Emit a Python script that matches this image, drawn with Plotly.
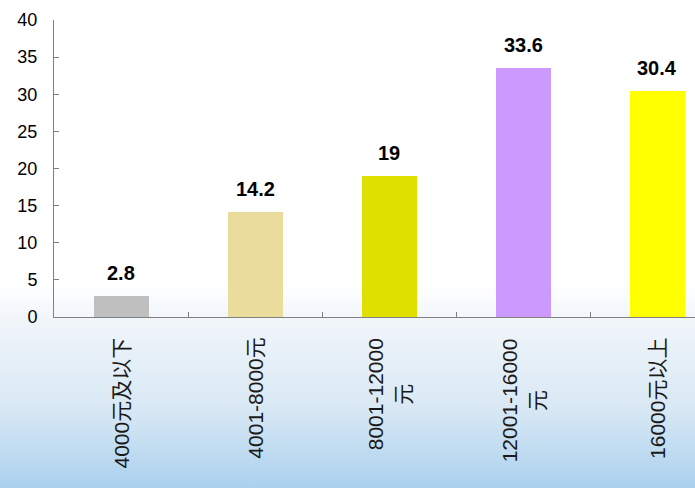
import base64
import plotly.graph_objects as go

# Monthly income bands and share of respondents (%)
categories = ["4000元及以下", "4001-8000元", "8001-12000<br>元", "12001-16000<br>元", "16000元以上"]
values = [2.8, 14.2, 19, 33.6, 30.4]
bar_colors = ["#BFBFBF", "#E9DC9C", "#DFE000", "#CC99FF", "#FFFF00"]
y_ticks = [0, 5, 10, 15, 20, 25, 30, 35, 40]

W, H = 695, 488
L, R, T, B = 54, 0, 20, 171
plot_w = W - L - R
plot_h = H - T - B
cat_px = 134.1
x_lo = -0.5
x_hi = x_lo + plot_w / cat_px

x = list(range(len(categories)))

fig = go.Figure()
fig.add_trace(go.Bar(
    x=x, y=values, width=0.41,
    marker=dict(color=bar_colors, line=dict(width=0)),
    hoverinfo="skip",
))

# value labels above bars
for xi, v in zip(x, values):
    fig.add_annotation(
        x=xi, y=v, xref="x", yref="y", text=f"<b>{v:g}</b>",
        showarrow=False, yanchor="bottom", yshift=10,
        font=dict(family="Liberation Sans, Arial, sans-serif", size=20, color="#000000"),
    )

# rotated category labels under the axis
for xi, c in zip(x, categories):
    fig.add_annotation(
        x=xi, y=0, xref="x", yref="paper", text=c,
        showarrow=False, textangle=-90, xanchor="center", yanchor="top",
        yshift=-19, align="center",
        font=dict(family="Liberation Sans, Noto Sans CJK SC, sans-serif", size=21, color="#1a1a1a"),
    )

# soft sky gradient behind the chart
svg = f"""<svg xmlns='http://www.w3.org/2000/svg' width='{W}' height='{H}' preserveAspectRatio='none'>
<defs><linearGradient id='g' x1='0' y1='0' x2='0' y2='1'>
<stop offset='0' stop-color='#ffffff'/>
<stop offset='0.58' stop-color='#ffffff'/>
<stop offset='0.66' stop-color='#f0f5fa'/>
<stop offset='0.84' stop-color='#d8e8f4'/>
<stop offset='1' stop-color='#aad0ee'/>
</linearGradient></defs>
<rect width='{W}' height='{H}' fill='url(#g)'/>
</svg>"""
src = "data:image/svg+xml;base64," + base64.b64encode(svg.encode()).decode()
fig.add_layout_image(
    source=src, xref="paper", yref="paper",
    x=-L / plot_w, y=1 + T / plot_h, sizex=W / plot_w, sizey=H / plot_h,
    xanchor="left", yanchor="top", sizing="stretch", layer="below",
)

fig.update_layout(
    width=W, height=H,
    margin=dict(l=L, r=R, t=T, b=B, pad=0),
    paper_bgcolor="#ffffff", plot_bgcolor="rgba(0,0,0,0)",
    showlegend=False, bargap=0,
    font=dict(family="Liberation Sans, Arial, sans-serif"),
)
fig.update_xaxes(
    range=[x_lo, x_hi], showgrid=False, zeroline=False,
    showline=True, linecolor="#808080", linewidth=1,
    tickvals=[0.5, 1.5, 2.5, 3.5], ticks="inside", ticklen=5, tickcolor="#808080",
    showticklabels=False,
)
fig.update_yaxes(
    range=[0, 40], tickvals=y_ticks, showgrid=False, zeroline=False,
    showline=True, linecolor="#808080", linewidth=1,
    ticks="inside", ticklen=5, tickcolor="#808080",
    ticklabelstandoff=12,
    tickfont=dict(family="Liberation Sans, Arial, sans-serif", size=18, color="#000000"),
)

fig.write_html("out.html")
